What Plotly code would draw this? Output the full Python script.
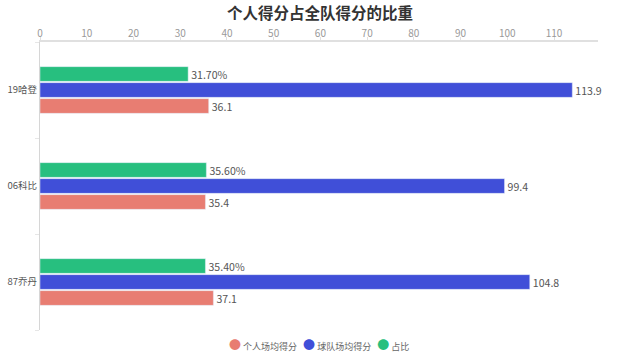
import plotly.graph_objects as go

categories = ["87乔丹", "06科比", "19哈登"]
personal = [37.1, 35.4, 36.1]
team = [104.8, 99.4, 113.9]
ratio = [35.40, 35.60, 31.70]
ratio_labels = ["35.40%", "35.60%", "31.70%"]
tick_vals = list(range(0, 111, 10))
series_names = ["个人场均得分", "球队场均得分", "占比"]

C_RED = "#e87d72"
C_BLUE = "#404fd8"
C_GREEN = "#27bf7f"
FONT = "Noto Sans CJK SC"
colors = [C_RED, C_BLUE, C_GREEN]

fig = go.Figure()
fig.add_trace(go.Bar(y=categories, x=personal, orientation="h", name=series_names[0],
                     marker_color=C_RED, text=[str(v) for v in personal],
                     textposition="outside", cliponaxis=False))
fig.add_trace(go.Bar(y=categories, x=team, orientation="h", name=series_names[1],
                     marker_color=C_BLUE, text=[str(v) for v in team],
                     textposition="outside", cliponaxis=False))
fig.add_trace(go.Bar(y=categories, x=ratio, orientation="h", name=series_names[2],
                     marker_color=C_GREEN, text=ratio_labels,
                     textposition="outside", cliponaxis=False))

fig.update_traces(textfont=dict(size=11.5, color="#555555", family=FONT))

legend_html = "&nbsp;&nbsp;&nbsp;".join(
    f"<span style='color:{c};font-size:12px'>●</span>&nbsp;{n}" for n, c in zip(series_names, colors))
fig.add_annotation(text=legend_html, xref="paper", yref="paper", x=0.5, y=-0.052,
                   xanchor="center", yanchor="middle", showarrow=False,
                   font=dict(size=9, color="#666666", family=FONT))

fig.update_layout(
    width=640, height=357,
    margin=dict(l=40, r=42, t=42, b=27),
    paper_bgcolor="white", plot_bgcolor="white",
    showlegend=False,
    font=dict(family=FONT, color="#666666"),
    title=dict(text="<b>个人得分占全队得分的比重</b>", x=0.5, xanchor="center",
               y=0.962, yanchor="middle", font=dict(size=15.5, color="#333333", family=FONT)),
    barmode="group", bargap=0.5, bargroupgap=0.08,
    xaxis=dict(side="top", range=[0, 119.4], tickvals=tick_vals, showgrid=False,
               zeroline=False, showline=True, linecolor="#e0e0e0", linewidth=2,
               ticks="outside", ticklen=3, tickcolor="#e0e0e0", ticklabelstandoff=-4,
               tickfont=dict(size=10, color="#999999"), automargin=False),
    yaxis=dict(showgrid=False, zeroline=False, showline=True, linecolor="#d6d6d6",
               linewidth=1, ticks="outside", tickson="boundaries", ticklen=4,
               tickcolor="#e6e6e6", tickfont=dict(size=9.5, color="#555555"),
               automargin=False),
)

fig.write_html("out.html")
